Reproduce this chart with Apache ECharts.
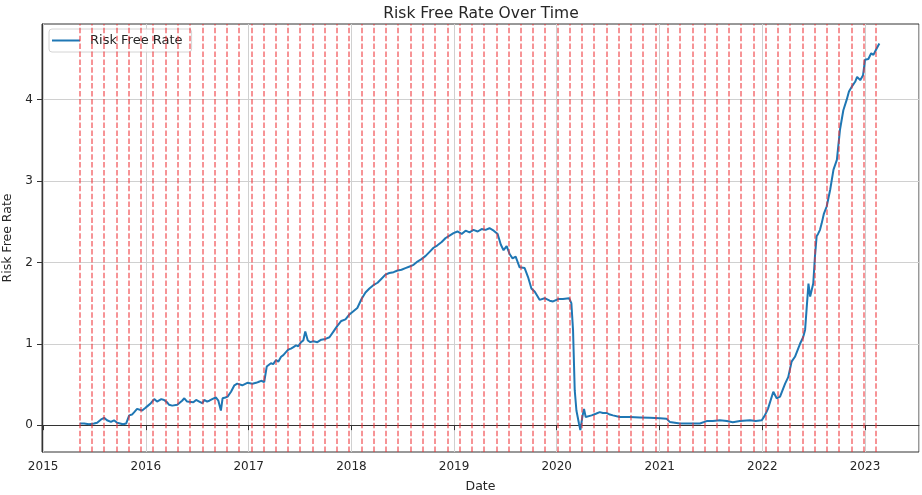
<!DOCTYPE html>
<html>
<head>
<meta charset="utf-8">
<script src="https://cdn.jsdelivr.net/npm/echarts@6/dist/echarts.min.js"></script>
<style>
  html, body { margin: 0; padding: 0; background: #fff; }
  #chart { width: 922px; height: 495px; }
</style>
</head>
<body>
<div id="chart"></div>
<script>
// Observation dates of the risk free rate series
const dates = [
  '2015-05-11','2015-05-27','2015-06-13','2015-07-01','2015-07-12','2015-07-26','2015-08-06','2015-08-16',
  '2015-08-30','2015-09-10','2015-09-21','2015-09-28','2015-10-12','2015-10-23','2015-11-03','2015-11-13',
  '2015-11-21','2015-12-01','2015-12-08','2015-12-19','2015-12-30','2016-01-09','2016-01-19','2016-01-31',
  '2016-02-10','2016-02-25','2016-03-06','2016-03-17','2016-03-24','2016-04-04','2016-04-11','2016-04-22',
  '2016-04-29','2016-05-09','2016-05-17','2016-05-27','2016-06-03','2016-06-18','2016-06-28','2016-07-09',
  '2016-07-20','2016-07-27','2016-08-06','2016-08-14','2016-08-24','2016-09-06','2016-09-15','2016-09-24',
  '2016-09-30','2016-10-10','2016-10-18','2016-10-30','2016-11-11','2016-11-21','2016-11-28','2016-12-09',
  '2016-12-16','2016-12-27','2017-01-03','2017-01-14','2017-01-27','2017-02-04','2017-02-14','2017-02-25',
  '2017-03-06','2017-03-21','2017-03-29','2017-04-08','2017-04-16','2017-04-26','2017-05-04','2017-05-14',
  '2017-05-22','2017-05-31','2017-06-09','2017-06-18','2017-06-26','2017-07-06','2017-07-14','2017-07-21',
  '2017-07-30','2017-08-08','2017-08-19','2017-09-02','2017-09-16','2017-10-01','2017-10-15','2017-10-29',
  '2017-11-12','2017-11-26','2017-12-11','2017-12-25','2018-01-08','2018-01-22','2018-02-06','2018-02-20',
  '2018-03-06','2018-03-20','2018-04-04','2018-04-18','2018-05-02','2018-05-16','2018-05-31','2018-06-14',
  '2018-06-28','2018-07-12','2018-07-27','2018-08-10','2018-08-24','2018-09-07','2018-09-22','2018-10-06',
  '2018-10-20','2018-11-03','2018-11-18','2018-12-02','2018-12-16','2018-12-30','2019-01-13','2019-01-28',
  '2019-02-11','2019-02-25','2019-03-11','2019-03-26','2019-04-09','2019-04-23','2019-05-07','2019-05-22',
  '2019-06-05','2019-06-16','2019-06-26','2019-07-07','2019-07-18','2019-07-28','2019-08-08','2019-08-22',
  '2019-09-09','2019-09-21','2019-10-03','2019-10-15','2019-10-22','2019-11-01','2019-11-19','2019-12-07',
  '2019-12-19','2020-01-06','2020-01-23','2020-02-14','2020-02-22','2020-02-28','2020-03-05','2020-03-11',
  '2020-03-20','2020-03-25','2020-04-01','2020-04-07','2020-04-13','2020-05-04','2020-05-19','2020-06-02',
  '2020-06-13','2020-06-26','2020-07-08','2020-07-19','2020-08-12','2020-09-17','2020-10-22','2020-11-27',
  '2021-01-02','2021-01-25','2021-02-06','2021-02-24','2021-03-14','2021-04-18','2021-05-24','2021-06-17',
  '2021-07-09','2021-08-03','2021-08-28','2021-09-18','2021-10-13','2021-11-18','2021-12-09','2021-12-30',
  '2022-01-10','2022-01-21','2022-01-28','2022-02-09','2022-02-21','2022-03-05','2022-03-23','2022-04-03',
  '2022-04-15','2022-04-27','2022-05-15','2022-05-26','2022-06-02','2022-06-14','2022-06-20','2022-07-01',
  '2022-07-07','2022-07-13','2022-07-18','2022-07-25','2022-07-31','2022-08-08','2022-08-18','2022-08-30',
  '2022-09-11','2022-09-23','2022-10-04','2022-10-16','2022-10-28','2022-11-05','2022-11-15','2022-11-27',
  '2022-12-04','2022-12-15','2022-12-25','2023-01-01','2023-01-13','2023-01-23','2023-01-31','2023-02-10',
  '2023-02-21'
];

// Risk free rate (%) on each date above
const rates = [
  0.02, 0.02, 0.01, 0.02, 0.03, 0.07, 0.09, 0.06,
  0.04, 0.06, 0.03, 0.01, 0.01, 0.02, 0.12, 0.13,
  0.16, 0.20, 0.22, 0.18, 0.21, 0.24, 0.27, 0.32,
  0.29, 0.32, 0.31, 0.28, 0.25, 0.24, 0.22, 0.25,
  0.24, 0.30, 0.33, 0.29, 0.30, 0.28, 0.31, 0.29,
  0.27, 0.31, 0.29, 0.30, 0.32, 0.34, 0.30, 0.18,
  0.33, 0.34, 0.35, 0.41, 0.49, 0.51, 0.53, 0.49,
  0.51, 0.52, 0.53, 0.51, 0.52, 0.53, 0.545, 0.53,
  0.72, 0.76, 0.75, 0.80, 0.78, 0.84, 0.86, 0.90,
  0.93, 0.94, 0.96, 0.98, 0.97, 1.02, 1.04, 1.15,
  1.04, 1.02, 1.03, 1.02, 1.05, 1.06, 1.08, 1.15,
  1.22, 1.28, 1.30, 1.36, 1.40, 1.44, 1.55, 1.63,
  1.68, 1.72, 1.75, 1.80, 1.85, 1.87, 1.88, 1.90,
  1.91, 1.93, 1.95, 1.97, 2.01, 2.04, 2.08, 2.13,
  2.18, 2.21, 2.25, 2.30, 2.33, 2.36, 2.38, 2.35,
  2.39, 2.37, 2.40, 2.38, 2.41, 2.40, 2.42, 2.39,
  2.35, 2.22, 2.15, 2.20, 2.10, 2.05, 2.07, 1.94,
  1.93, 1.82, 1.68, 1.64, 1.60, 1.54, 1.56, 1.53,
  1.52, 1.55, 1.55, 1.56, 1.50, 1.17, 0.43, 0.18,
  0.02, -0.06, 0.10, 0.20, 0.10, 0.12, 0.14, 0.16,
  0.15, 0.15, 0.13, 0.12, 0.10, 0.10, 0.095, 0.09,
  0.085, 0.08, 0.04, 0.03, 0.02, 0.02, 0.02, 0.05,
  0.05, 0.06, 0.05, 0.035, 0.05, 0.06, 0.05, 0.06,
  0.12, 0.20, 0.22, 0.41, 0.33, 0.35, 0.51, 0.59,
  0.78, 0.84, 1.00, 1.08, 1.17, 1.74, 1.58, 1.74,
  2.07, 2.32, 2.35, 2.40, 2.48, 2.60, 2.69, 2.89,
  3.14, 3.26, 3.63, 3.87, 4.00, 4.10, 4.16, 4.22,
  4.28, 4.24, 4.30, 4.49, 4.50, 4.57, 4.55, 4.62,
  4.69
];

// Rebalancing dates, marked with vertical dashed lines
const rebalanceDates = [
  '2015-05-11','2015-06-24','2015-08-06','2015-09-19','2015-11-01','2015-12-15',
  '2016-01-27','2016-03-11','2016-04-23','2016-06-06','2016-07-20','2016-09-01','2016-10-15','2016-11-27',
  '2017-01-10','2017-02-22','2017-04-07','2017-05-20','2017-07-03','2017-08-15','2017-09-28','2017-11-11','2017-12-24',
  '2018-02-06','2018-03-21','2018-05-04','2018-06-16','2018-07-30','2018-09-11','2018-10-25','2018-12-08',
  '2019-01-20','2019-03-05','2019-04-17','2019-05-31','2019-07-13','2019-08-26','2019-10-08','2019-11-21',
  '2020-01-03','2020-02-16','2020-03-31','2020-05-13','2020-06-26','2020-08-08','2020-09-21','2020-11-03','2020-12-17',
  '2021-01-29','2021-03-14','2021-04-27','2021-06-09','2021-07-23','2021-09-04','2021-10-18','2021-11-30',
  '2022-01-13','2022-02-25','2022-04-10','2022-05-23','2022-07-06','2022-08-19','2022-10-01','2022-11-14','2022-12-27',
  '2023-02-09'
];

// Rate axis tick values
const rateTicks = [0, 1, 2, 3, 4];

const FONT = '"DejaVu Sans", "Liberation Sans", sans-serif';
const TEXT = '#262626';
const AXIS = '#333333';
const GRID = '#d0d0d0';

const chart = echarts.init(document.getElementById('chart'), null, { renderer: 'canvas' });

chart.setOption({
  animation: false,
  backgroundColor: '#ffffff',
  textStyle: { fontFamily: FONT },
  title: {
    text: 'Risk Free Rate Over Time',
    left: 476,
    top: 1,
    textAlign: 'center',
    textStyle: { fontFamily: FONT, fontSize: 15.5, fontWeight: 'normal', color: TEXT }
  },
  legend: {
    left: 49,
    top: 29,
    padding: [5, 9, 5, 3],
    itemWidth: 28,
    itemHeight: 2,
    icon: 'rect',
    backgroundColor: 'rgba(255,255,255,0.85)',
    borderColor: '#d4d4d4',
    borderWidth: 1,
    borderRadius: 3,
    textStyle: { fontFamily: FONT, fontSize: 13, color: TEXT, padding: [0, 0, 0, 5] }
  },
  grid: {
    left: 42,
    right: 3,
    top: 24,
    bottom: 43,
    outerBoundsMode: 'none',
    containLabel: false,
    show: true,
    borderColor: AXIS,
    borderWidth: 1,
    backgroundColor: 'transparent'
  },
  xAxis: {
    type: 'time',
    min: '2014-12-28',
    max: '2023-07-12',
    minInterval: 365 * 24 * 3600 * 1000,
    splitNumber: 9,
    name: 'Date',
    nameLocation: 'middle',
    nameGap: 28,
    nameTextStyle: { fontFamily: FONT, fontSize: 12.5, color: TEXT },
    axisLine: { show: true, lineStyle: { color: AXIS, width: 1 } },
    axisTick: { show: true, length: 5, lineStyle: { color: AXIS } },
    axisLabel: {
      fontFamily: FONT, fontSize: 12, color: TEXT, margin: 9,
      formatter: (v) => String(new Date(v).getFullYear())
    },
    splitLine: { show: true, lineStyle: { color: GRID, width: 1 } }
  },
  yAxis: {
    type: 'value',
    min: -0.33,
    max: 4.93,
    splitNumber: 5,
    name: 'Risk Free Rate',
    nameLocation: 'middle',
    nameRotate: 90,
    nameGap: 24,
    nameTextStyle: { fontFamily: FONT, fontSize: 12.5, color: TEXT },
    axisLine: { show: true, lineStyle: { color: AXIS, width: 1 } },
    axisTick: { show: true, length: 5, customValues: rateTicks, lineStyle: { color: AXIS } },
    axisLabel: {
      fontFamily: FONT, fontSize: 12, color: TEXT, margin: 9,
      customValues: rateTicks,
      formatter: (v) => String(Math.round(v))
    },
    splitLine: { show: true, lineStyle: { color: GRID, width: 1 } }
  },
  series: [{
    name: 'Risk Free Rate',
    type: 'line',
    data: dates.map((d, i) => [d, rates[i]]),
    symbol: 'none',
    showSymbol: false,
    lineStyle: { color: '#1f77b4', width: 2 },
    itemStyle: { color: '#1f77b4' },
    markLine: {
      silent: true,
      symbol: ['none', 'none'],
      label: { show: false },
      lineStyle: { color: 'rgba(238,45,50,0.6)', width: 1.7, type: [5.5, 2.4] },
      emphasis: { disabled: true },
      data: rebalanceDates.map(d => ({ xAxis: d }))
    }
  }]
});
</script>
</body>
</html>
